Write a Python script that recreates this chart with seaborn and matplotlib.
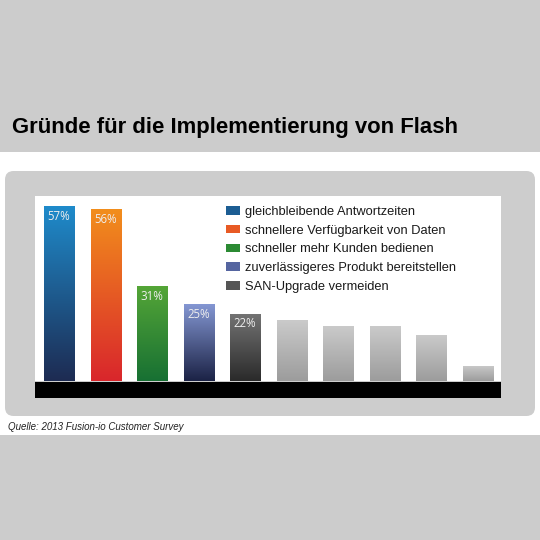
import matplotlib

matplotlib.use("Agg")
import matplotlib.pyplot as plt
import numpy as np
import seaborn as sns
from matplotlib.colors import LinearSegmentedColormap
from matplotlib.patches import FancyBboxPatch, Rectangle

# data
reasons = [
    "gleichbleibende Antwortzeiten",
    "schnellere Verfügbarkeit von Daten",
    "schneller mehr Kunden bedienen",
    "zuverlässigeres Produkt bereitstellen",
    "SAN-Upgrade vermeiden",
]
shares = [57, 56, 31, 25, 22, 20, 18, 18, 15, 5]
share_labels = ["57%", "56%", "31%", "25%", "22%"]
title = "Gründe für die Implementierung von Flash"
source = "Quelle: 2013 Fusion-io Customer Survey"

# (top colour, bottom colour) for each bar
bar_gradients = [
    ("#1f8bcb", "#1d2b52"),
    ("#f28e1c", "#d9262c"),
    ("#55a637", "#177033"),
    ("#8497d3", "#1b2245"),
    ("#747474", "#2a2a2a"),
] + [("#cbcbcb", "#9c9c9c")] * 5
legend_colors = ["#1c5d93", "#e85a24", "#2b8a33", "#5565a0", "#555555"]

W = H = 540
GREY = "#cccccc"


def fig_box(x0, y0, x1, y1):
    # pixel box (top-left origin) -> figure fractions
    return x0 / W, 1 - y1 / H, (x1 - x0) / W, (y1 - y0) / H


sns.set_theme(style="white")
plt.rcParams["font.family"] = ["Liberation Sans", "DejaVu Sans"]

fig = plt.figure(figsize=(5.4, 5.4), dpi=100, facecolor="white")

# background bands and rounded panel
for y0, y1 in [(0, 152), (435, 540)]:
    x, y, w, h = fig_box(0, y0, W, y1)
    fig.patches.append(Rectangle((x, y), w, h, transform=fig.transFigure,
                                 facecolor=GREY, edgecolor="none", zorder=-2))
x, y, w, h = fig_box(5, 171, 535, 416)
fig.patches.append(FancyBboxPatch((x, y), w, h, boxstyle="round,pad=0,rounding_size=0.016",
                                  transform=fig.transFigure, facecolor="#cdcdcd",
                                  edgecolor="none", zorder=-2))
x, y, w, h = fig_box(35, 382, 501, 398)
fig.patches.append(Rectangle((x, y), w, h, transform=fig.transFigure,
                             facecolor="black", edgecolor="none", zorder=5))

ax = fig.add_axes(fig_box(35, 196, 501, 381))
ax.set_zorder(2)
ax.set_facecolor("white")

positions = list(range(len(shares)))
sns.barplot(x=positions, y=shares, width=0.645, color="white", ax=ax)

# gradient fill clipped to each bar
ramp = np.linspace(0, 1, 256).reshape(-1, 1)
for patch, (top, bottom) in zip(ax.patches, bar_gradients):
    x0, y0 = patch.get_x(), patch.get_y()
    bw, bh = patch.get_width(), patch.get_height()
    cmap = LinearSegmentedColormap.from_list("bar", [bottom, top])
    img = ax.imshow(ramp, cmap=cmap, origin="lower", aspect="auto",
                    extent=[x0, x0 + bw, y0, y0 + bh], zorder=2)
    img.set_clip_path(patch)
    patch.set_edgecolor("none")

for pos, (value, text) in zip(positions, zip(shares, share_labels)):
    ax.text(pos, value - 3.4, text, ha="center", va="center", color="#eeeeee",
            fontsize=8.3, family=["Open Sans", "DejaVu Sans"], zorder=3)

ax.set_xlim(-0.516, 9.5)
ax.set_ylim(0, 60.3)
ax.set_xticks([])
ax.set_yticks([])
ax.set_xlabel("")
ax.set_ylabel("")
for spine in ax.spines.values():
    spine.set_visible(False)

handles = [Rectangle((0, 0), 1, 1, facecolor=c, edgecolor="none") for c in legend_colors]
legend = ax.legend(handles, reasons, loc="upper left", bbox_to_anchor=(226 / W, 1 - 206 / H),
                   bbox_transform=fig.transFigure, frameon=False, fontsize=9.3,
                   handlelength=1.1, handleheight=0.62, handletextpad=0.35,
                   labelspacing=0.52, borderpad=0, borderaxespad=0)
for label in legend.get_texts():
    label.set_color("#1a1a1a")

fig.text(12 / W, 1 - 128 / H, title, ha="left", va="center", fontsize=15.9,
         fontweight="bold", color="black")
fig.text(8 / W, 1 - 427 / H, source, ha="left", va="center", fontsize=7.0,
         style="italic", color="#222222")

fig.savefig("out.png", dpi=100, facecolor=fig.get_facecolor())
